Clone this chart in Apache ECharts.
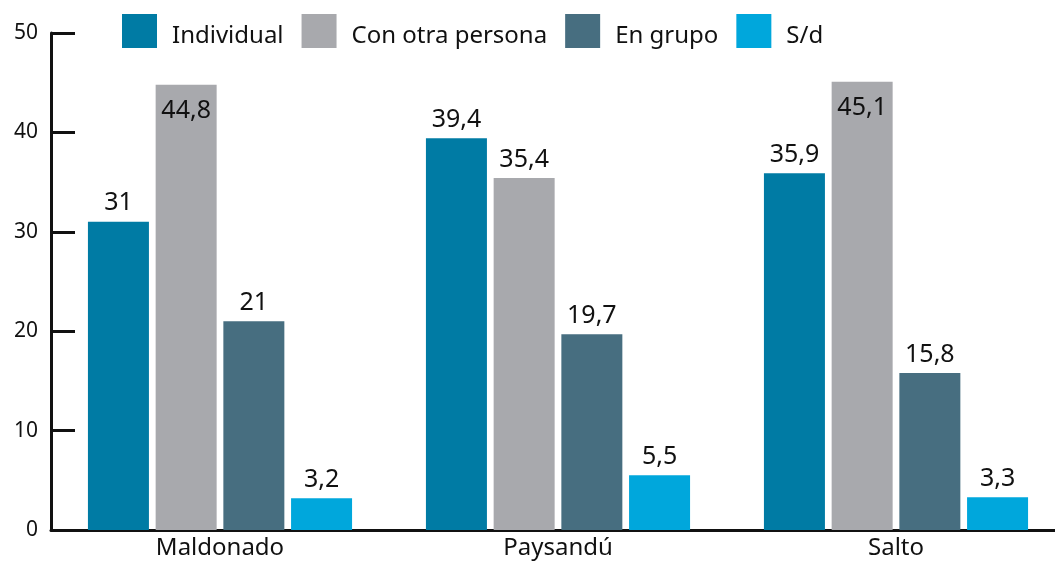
<!DOCTYPE html>
<html>
<head>
    <meta charset="UTF-8">
    <title>chart</title>
    <script src="https://cdn.jsdelivr.net/npm/echarts@6/dist/echarts.min.js"></script>
    <style>
        html, body { margin: 0; padding: 0; background: #fff; }
        #chart { width: 1055px; height: 561px; }
    </style>
</head>
<body>
<div id="chart"></div>
<script>
    // datos
    var categorias = ['Maldonado', 'Paysandú', 'Salto'];
    var individual = [31, 39.4, 35.9];
    var conOtraPersona = [44.8, 35.4, 45.1];
    var enGrupo = [21, 19.7, 15.8];
    var sinDato = [3.2, 5.5, 3.3];
    var nombres = ['Individual', 'Con otra persona', 'En grupo', 'S/d'];
    var colores = ['#007ba4', '#a8a9ad', '#476e80', '#00a7dc'];

    var fuente = 'Noto Sans';
    var valores = [individual, conOtraPersona, enGrupo, sinDato];

    function coma(p) {
        return String(p.value).replace('.', ',');
    }

    var series = [];
    for (var i = 0; i < nombres.length; i++) {
        // las barras mas altas llevan la etiqueta dentro (chocan con la leyenda)
        var datos = valores[i].map(function (v) {
            if (v > 44) {
                return { value: v, label: { position: 'insideTop', distance: 14 } };
            }
            return v;
        });
        series.push({
            name: nombres[i],
            type: 'bar',
            data: datos,
            barWidth: 61,
            barGap: '11%',
            itemStyle: { color: colores[i] },
            label: {
                show: true,
                position: 'top',
                distance: 6,
                color: '#111',
                fontFamily: fuente,
                fontSize: 25,
                formatter: coma
            }
        });
    }

    var myChart = echarts.init(document.getElementById('chart'));
    var option = {
        animation: false,
        color: colores,
        legend: {
            left: 122,
            top: 14,
            padding: 0,
            itemWidth: 35,
            itemHeight: 44,
            itemGap: 18,
            // cuadrado arriba, con espacio vacio abajo para bajar el texto
            icon: 'path://M0,0h35v34h-35zM0,44',
            textStyle: { fontFamily: fuente, fontSize: 24, color: '#111', padding: [0, 0, 0, 10] },
            data: nombres
        },
        grid: { left: 51, width: 1014, top: 33, bottom: 31, containLabel: false, outerBoundsMode: 'none' },
        xAxis: {
            type: 'category',
            data: categorias,
            axisLine: { lineStyle: { color: '#111', width: 3 } },
            axisTick: { show: false },
            axisLabel: { fontFamily: fuente, fontSize: 24, color: '#111', margin: 6 }
        },
        yAxis: {
            type: 'value',
            min: 0,
            max: 50,
            interval: 10,
            splitLine: { show: false },
            axisLine: { show: true, lineStyle: { color: '#111', width: 3 } },
            axisTick: { show: true, inside: true, length: 24, lineStyle: { color: '#111', width: 3 } },
            axisLabel: { fontFamily: fuente, fontSize: 21, color: '#111', margin: 13 }
        },
        series: series
    };
    myChart.setOption(option);
</script>
</body>
</html>
